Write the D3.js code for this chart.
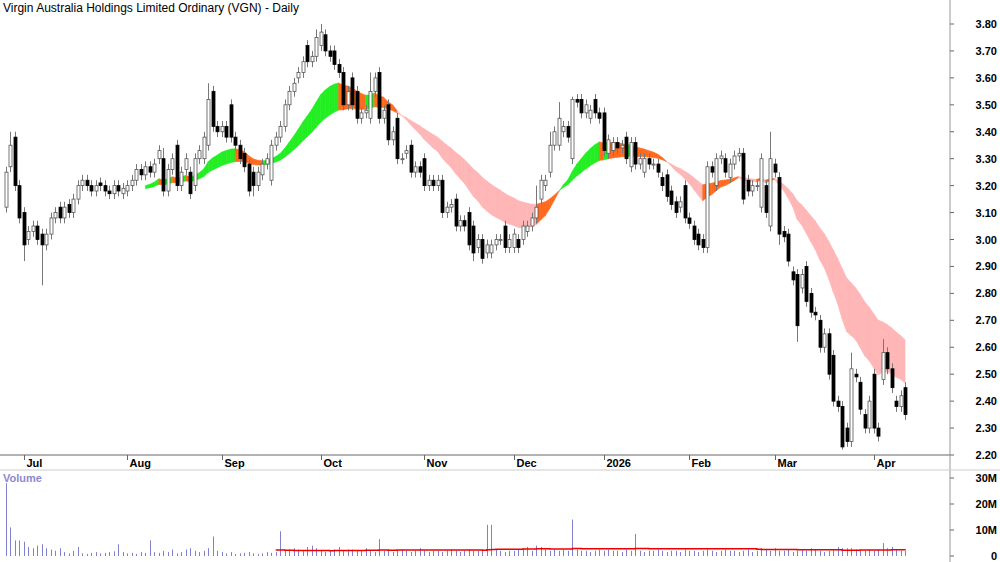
<!DOCTYPE html>
<html lang="en">
<head>
<meta charset="UTF-8">
<title>VGN Daily</title>
<script src="https://d3js.org/d3.v7.min.js"></script>
<style>
  body { margin: 0; background: #fff; }
  text { font-family: Arial, "Liberation Sans", sans-serif; }
</style>
</head>
<body>
<div id="chart"></div>
<script>
// daily open / close, late Jun 2025 - Apr 2026
const opens = [
  3.12,3.27,3.38,3.20,
  3.10,3.00,3.03,3.05,3.02,2.98,3.02,3.08,3.12,3.08,3.13,3.10,3.15,3.20,3.22,3.20,3.18,3.21,3.20,3.18,3.17,3.20,3.17,
  3.18,3.20,3.22,3.26,3.24,3.27,3.25,3.30,3.30,3.18,3.26,3.35,3.20,3.26,3.25,3.20,3.30,3.30,3.35,3.55,3.42,
  3.40,3.42,3.50,3.38,3.35,3.32,3.28,3.25,3.20,3.24,3.28,3.22,3.35,3.38,3.42,3.50,3.55,3.60,3.62,3.72,3.66,3.68,
  3.72,3.76,3.70,3.70,3.65,3.62,3.50,3.60,3.55,3.45,3.47,3.45,3.55,3.62,3.45,3.50,3.37,3.45,3.30,3.32,3.35,3.25,3.27,
  3.30,3.20,3.22,3.20,3.22,3.10,3.12,3.15,3.05,3.07,3.10,3.05,2.97,3.00,2.95,2.95,2.98,3.00,3.05,2.97,
  2.97,3.00,3.00,3.03,3.05,3.08,3.15,3.20,3.25,3.35,3.35,3.40,3.42,3.30,3.52,3.52,3.47,3.45,3.52,3.47,3.47,
  3.32,3.33,3.36,3.34,3.38,3.27,3.36,3.28,3.25,3.30,3.28,3.28,3.23,3.24,3.18,3.14,3.12,3.20,3.08,
  3.05,3.02,3.00,2.97,3.27,3.20,3.30,3.30,3.23,3.28,3.31,3.32,3.22,3.18,3.20,3.12,3.20,3.05,3.28,3.23,
  3.03,3.02,2.88,2.87,2.82,2.90,2.80,2.73,2.70,2.60,2.65,2.57,2.40,2.38,2.30,2.25,2.50,2.47,2.35,2.30,2.50,2.30,
  2.48,2.58,2.52,2.40,2.38,2.45
];
const closes = [
  3.25,3.35,3.20,3.08,
  2.98,3.03,3.05,3.00,2.98,3.02,3.08,3.10,3.08,3.12,3.10,3.15,3.20,3.22,3.20,3.18,3.20,3.20,3.18,3.17,3.20,3.18,3.19,
  3.20,3.22,3.26,3.24,3.27,3.25,3.28,3.33,3.18,3.26,3.30,3.20,3.25,3.30,3.17,3.30,3.33,3.38,3.52,3.42,3.40,
  3.42,3.38,3.38,3.35,3.30,3.27,3.18,3.20,3.25,3.28,3.30,3.35,3.38,3.42,3.50,3.55,3.58,3.62,3.66,3.66,3.68,3.75,
  3.77,3.70,3.68,3.65,3.62,3.50,3.55,3.50,3.45,3.47,3.48,3.55,3.60,3.45,3.48,3.37,3.40,3.30,3.30,3.33,3.25,3.27,3.25,
  3.20,3.22,3.20,3.22,3.10,3.12,3.13,3.05,3.07,3.05,2.98,2.95,3.00,2.93,2.98,2.98,3.00,3.00,2.97,3.00,
  3.02,2.97,3.05,3.05,3.08,3.12,3.22,3.22,3.35,3.40,3.45,3.42,3.38,3.52,3.51,3.47,3.50,3.48,3.47,3.45,3.33,
  3.37,3.36,3.34,3.35,3.30,3.36,3.28,3.30,3.30,3.28,3.28,3.25,3.20,3.16,3.13,3.10,3.14,3.08,3.06,
  3.00,2.98,2.97,3.27,3.25,3.30,3.31,3.25,3.28,3.31,3.32,3.15,3.18,3.20,3.20,3.30,3.10,3.30,3.25,3.02,
  3.01,2.92,2.85,2.68,2.87,2.77,2.73,2.72,2.60,2.65,2.50,2.40,2.38,2.23,2.25,2.52,2.49,2.37,2.30,2.40,2.30,2.27,
  2.58,2.52,2.45,2.38,2.42,2.35
];
const baseWick = 0.02;
// candles with longer wicks: [index, high, low]
const longWicks = [
  [1,3.40,null],[4,null,2.92],[8,null,2.83],[35,3.34,null],[45,3.58,null],[50,3.52,null],[55,null,3.16],
  [69,3.78,null],[70,3.80,null],[81,3.62,null],[104,null,2.92],[118,3.20,null],[121,3.40,null],
  [123,3.51,null],[126,3.53,null],[170,3.40,null],[172,null,2.98],[176,null,2.62],[186,null,2.22],
  [188,2.58,null],[195,2.63,null],[193,2.52,null]
];
// volume in millions
const volumes = [
  28,11,6,6,
  5.5,3.5,3,4,4.5,3,2.5,2,3,1.5,1,2,3.5,1,0.8,1.2,1.5,1,1.2,1.5,1.8,4.5,1.5,
  1,1.2,0.8,1.5,1.2,6,1.5,1.2,2,1.5,2.5,1,1.5,2.5,3,2,1.5,2,3,7.5,2,
  1.5,1,1.5,0.8,1,1.2,1.5,1,0.8,1,1.5,1.2,1.5,9.5,2,2.5,3,2.5,2,3.5,4,3,
  2,1.5,2,2.5,3.5,2,2.5,2.5,2,2,3,2,1.5,6.5,2,2.5,1.5,2,2.5,2,1.5,2,3,
  2,1.5,2,2,1.5,2,2.5,2,1.5,2,2.5,2,2,2,12,12,2.5,2,1.5,2,
  2,2.5,3,3.5,2,4,3.5,2.5,2,2.5,2,2.5,2,14,2.5,2,2,1.5,2,2.5,2,
  2.5,2,2,1.5,2.5,2,8.5,2,1.5,2,2,2.5,2,1.5,2,2,1.5,2.5,2,
  2,1.5,2,2.5,2,1.5,2,2.5,2,2,1.5,2,2.5,1.5,2,3,2.5,2,3,2,
  2,2.5,1.5,2,2.5,2,3,2.5,2,1.5,2,2.5,3.5,3,3,3,2.5,2,2,2.5,2,2.5,
  5,3,3.5,2.5,2,2
];
const monthLabels = ["Jul","Aug","Sep","Oct","Nov","Dec","2026","Feb","Mar","Apr"];
const monthIndex = [4,27,48,70,93,113,133,152,171,193];
const priceTicks = [2.2,2.3,2.4,2.5,2.6,2.7,2.8,2.9,3.0,3.1,3.2,3.3,3.4,3.5,3.6,3.7,3.8];
const volTicks = [0,10,20,30];

const W = 1000, H = 562, axisX = 950;
const svg = d3.select("#chart").append("svg").attr("width", W).attr("height", H);

const x = d3.scaleLinear().domain([0, closes.length - 1]).range([6, 905]);
const y = d3.scaleLinear().domain([2.2, 3.8]).range([455, 24]);
const yv = d3.scaleLinear().domain([0, 30]).range([556, 478]);

const highs = closes.map((c, i) => Math.max(c, opens[i]) + baseWick);
const lows = closes.map((c, i) => Math.min(c, opens[i]) - baseWick);
longWicks.forEach(([i, h, l]) => { if (h != null) highs[i] = h; if (l != null) lows[i] = l; });

// moving average band
function ema(arr, n) {
  const k = 2 / (n + 1), out = [];
  arr.forEach((v, i) => out.push(i === 0 ? v : v * k + out[i - 1] * (1 - k)));
  return out;
}
const fast = ema(closes, 18), slow = ema(closes, 36);
const bandStart = 31;
for (let i = bandStart; i < closes.length - 1; i++) {
  const up = fast[i + 1] >= slow[i + 1];
  let col;
  if (up) col = fast[i + 1] >= fast[i] ? "#22ee22" : "#ff6a1f";
  else col = slow[i + 1] <= slow[i] ? "#ffb6b6" : "#ff6a1f";
  svg.append("path")
    .attr("fill", col).attr("stroke", col).attr("stroke-width", 0.6)
    .attr("d", d3.area().x(j => x(j)).y0(j => y(slow[j])).y1(j => y(fast[j]))([i, i + 1]));
}

// candles
const candles = svg.append("g");
closes.forEach((c, i) => {
  const o = opens[i], top = Math.max(o, c), bot = Math.min(o, c);
  const cx = Math.round(x(i)) + 0.5;
  candles.append("line").attr("x1", cx).attr("x2", cx)
    .attr("y1", y(highs[i])).attr("y2", y(lows[i]))
    .attr("stroke", "#777").attr("stroke-width", 1);
  candles.append("rect")
    .attr("x", cx - 1.5).attr("width", 3)
    .attr("y", y(top)).attr("height", Math.max(1, y(bot) - y(top)))
    .attr("fill", c < o ? "#000" : "#fff")
    .attr("stroke", c < o ? "#000" : "#555").attr("stroke-width", 0.8);
});

// frame lines
svg.append("line").attr("x1", 0).attr("x2", axisX).attr("y1", 455).attr("y2", 455)
  .attr("stroke", "#999").attr("stroke-width", 1.5);
svg.append("line").attr("x1", axisX).attr("x2", axisX).attr("y1", 0).attr("y2", H)
  .attr("stroke", "#999").attr("stroke-width", 1);
svg.append("line").attr("x1", 0).attr("x2", W).attr("y1", 470).attr("y2", 470)
  .attr("stroke", "#ccc").attr("stroke-width", 1);

// month axis
monthIndex.forEach((m, k) => {
  const mx = Math.round(x(m)) + 0.5;
  svg.append("line").attr("x1", mx).attr("x2", mx).attr("y1", 455).attr("y2", 460).attr("stroke", "#666");
  svg.append("text").attr("x", mx + 2).attr("y", 467).attr("font-size", 11).attr("font-weight", "bold")
    .text(monthLabels[k]);
});

// price axis
priceTicks.forEach(p => {
  svg.append("line").attr("x1", axisX).attr("x2", axisX + 4).attr("y1", y(p)).attr("y2", y(p)).attr("stroke", "#666");
  svg.append("text").attr("x", 997).attr("y", y(p) + 4).attr("text-anchor", "end")
    .attr("font-size", 11).attr("font-weight", "bold").text(p.toFixed(2));
});

// volume
svg.append("text").attr("x", 3).attr("y", 482).attr("font-size", 11).attr("font-weight", "bold")
  .attr("fill", "#8a8ad0").text("Volume");
volumes.forEach((v, i) => {
  const vx = Math.round(x(i)) + 0.5;
  svg.append("line").attr("x1", vx).attr("x2", vx).attr("y1", yv(0)).attr("y2", yv(v))
    .attr("stroke", "#8080d0").attr("stroke-width", 1);
});
const volMa = volumes.map((v, i) => i < 60 ? null : d3.mean(volumes.slice(i - 59, i + 1)));
svg.append("path").attr("fill", "none").attr("stroke", "#e00").attr("stroke-width", 1.5)
  .attr("d", d3.line().defined(d => d != null).x((d, i) => x(i)).y(d => yv(d)).curve(d3.curveStepAfter)(volMa));
volTicks.forEach(t => {
  svg.append("line").attr("x1", axisX).attr("x2", axisX + 4).attr("y1", yv(t)).attr("y2", yv(t)).attr("stroke", "#666");
  svg.append("text").attr("x", 997).attr("y", yv(t) + 4).attr("text-anchor", "end")
    .attr("font-size", 11).attr("font-weight", "bold").text(t === 0 ? "0" : t + "M");
});

// title
svg.append("text").attr("x", 3).attr("y", 12).attr("font-size", 12)
  .text("Virgin Australia Holdings Limited Ordinary (VGN) - Daily");
</script>
</body>
</html>
